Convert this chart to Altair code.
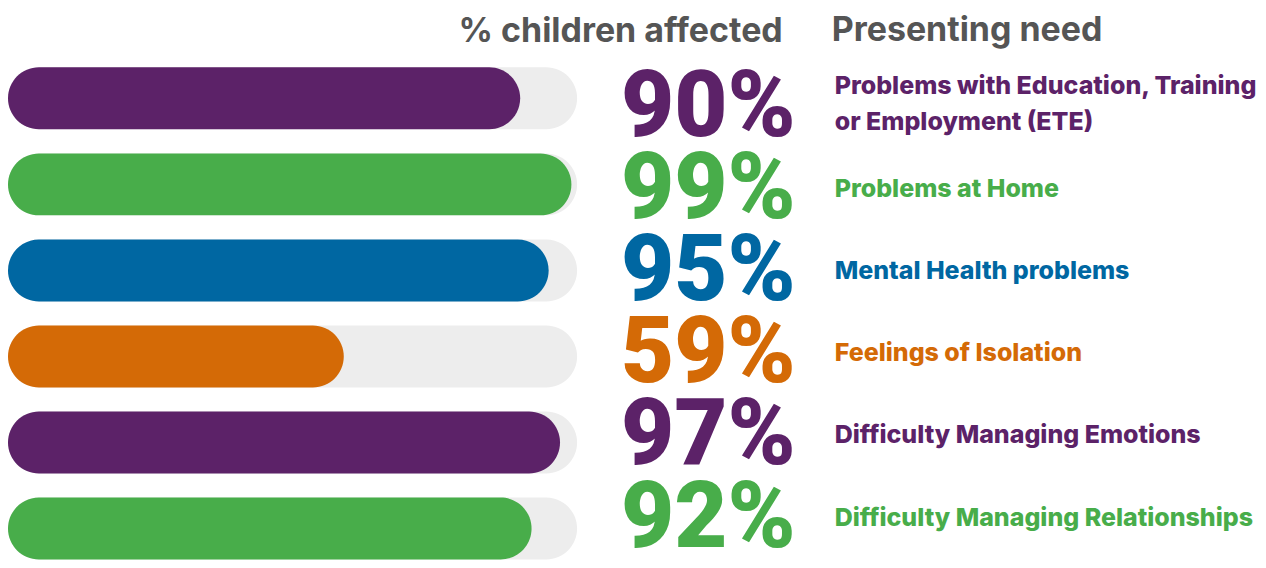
import altair as alt
import pandas as pd

rows = ["r1", "r2", "r3", "r4", "r5", "r6"]
needs = [
    "Problems with Education, Training\nor Employment (ETE)",
    "Problems at Home",
    "Mental Health problems",
    "Feelings of Isolation",
    "Difficulty Managing Emotions",
    "Difficulty Managing Relationships",
]
values = [90, 99, 95, 59, 97, 92]
colors = ["#5C2268", "#48AD4A", "#0067A2", "#D46A06", "#5C2268", "#48AD4A"]

df = pd.DataFrame({
    "row": rows,
    "need": needs,
    "value": values,
    "label": [f"{v}%" for v in values],
    "start": [0] * len(rows),
    "full": [100] * len(rows),
    "multi": ["\n" in n for n in needs],
})

H = 493
yenc = alt.Y("row:N", sort=rows, axis=None,
             scale=alt.Scale(paddingInner=0.28, paddingOuter=0))
cenc = alt.Color("row:N", scale=alt.Scale(domain=rows, range=colors), legend=None)
xscale = alt.Scale(domain=[0, 100])

base = alt.Chart(df)

bg = base.mark_bar(color="#EDEDED", cornerRadius=31).encode(
    x=alt.X("start:Q", scale=xscale, axis=None), x2="full:Q", y=yenc)
fg = base.mark_bar(cornerRadius=31).encode(
    x=alt.X("start:Q", scale=xscale, axis=None), x2="value:Q", y=yenc, color=cenc)
bars = (bg + fg).properties(width=570, height=H)

title_style = dict(fontSize=34, font="Inter", fontWeight=700, color="#555555")

pct = base.mark_text(align="left", baseline="alphabetic", dy=28,
                     font="Roboto", fontSize=92, fontWeight=900).encode(
    x=alt.value(44), y=yenc, text="label:N", color=cenc
).properties(width=258, height=H,
             title=alt.TitleParams("% children affected", anchor="end", dx=-52,
                                   offset=13, **title_style))

label_style = dict(align="left", baseline="middle", lineBreak="\n", lineHeight=36,
                   font="Inter", fontSize=25, fontWeight=800)
lab_single = base.transform_filter("!datum.multi").mark_text(dy=-1, **label_style).encode(
    x=alt.value(0), y=yenc, text="need:N", color=cenc)
lab_multi = base.transform_filter("datum.multi").mark_text(dy=-22, **label_style).encode(
    x=alt.value(0), y=yenc, text="need:N", color=cenc)
lab = (lab_single + lab_multi).properties(
    width=420, height=H,
    title=alt.TitleParams("Presenting need", anchor="start", dx=-3,
                          offset=19, **title_style))

chart = alt.hconcat(bars, pct, lab, spacing=0).properties(
    bounds="flush", padding={"top": 6, "left": 0, "right": 0, "bottom": 0}
).configure_view(stroke=None).configure_title(baseline="bottom")

chart.save("out.html", embed_options={"renderer": "svg", "actions": False})
